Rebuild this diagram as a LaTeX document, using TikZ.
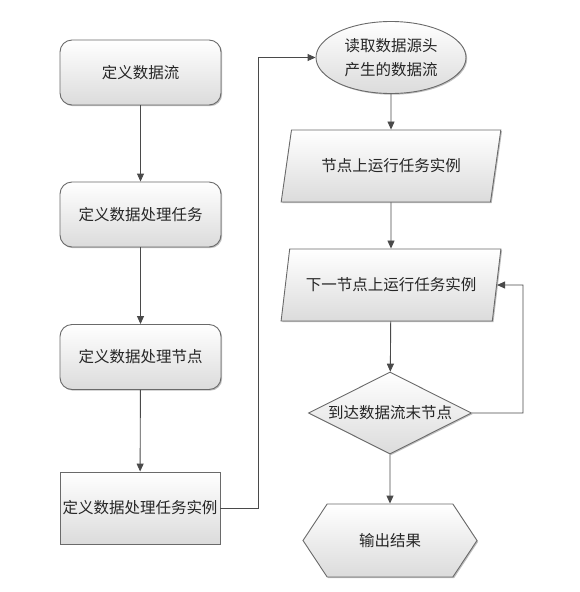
\documentclass[tikz,border=0pt]{standalone}
\usepackage{fontspec}
\newfontfamily\cjk{Noto Sans CJK SC}
\usetikzlibrary{shapes.geometric,shapes.symbols,shadows,arrows.meta}
\definecolor{edge}{HTML}{6A6A6A}
\definecolor{arr}{HTML}{4A4A4A}
\tikzset{
  base/.style={draw=edge, line width=0.9pt, top color=white, bottom color=black!14,
    font=\cjk\fontsize{15.5pt}{24pt}\selectfont, text=black!85, inner sep=0pt,
    drop shadow={shadow xshift=1.2pt, shadow yshift=-1.2pt, opacity=0.25, fill=black}},
  rbox/.style={base, rounded corners=12pt, minimum width=161pt, minimum height=65pt},
  sbox/.style={base, minimum width=160pt, minimum height=72pt},
  ell/.style={base, ellipse, minimum width=150pt, minimum height=72pt, align=center},
  para/.style={base, trapezium, trapezium left angle=63.4, trapezium right angle=116.6,
    trapezium stretches=true, minimum width=220pt, minimum height=72pt},
  dia/.style={base, diamond, aspect=2, minimum width=163pt, minimum height=82pt},
  hexa/.style={base, signal, signal to=west and east, signal pointer angle=113,
    minimum width=174pt, minimum height=73pt},
  conn/.style={draw=arr, line width=0.9pt, -{Triangle[length=8pt,width=7pt]}},
}
\begin{document}
\begin{tikzpicture}[x=1pt,y=-1pt]
\useasboundingbox (0,0) rectangle (579,592);
\node[rbox] (b1) at (140.5,72.5) {定义数据流};
\node[rbox] (b2) at (140.5,214.5) {定义数据处理任务};
\node[rbox] (b3) at (140.5,357) {定义数据处理节点};
\node[sbox] (b4) at (140,508) {定义数据处理任务实例};
\node[ell] (e1) at (391,57.5) {读取数据源头\\产生的数据流};
\node[para] (p1) at (391,166) {节点上运行任务实例};
\node[para] (p2) at (391,285) {下一节点上运行任务实例};
\node[dia] (d1) at (390,413) {到达数据流末节点};
\node[hexa] (h1) at (390,540.5) {输出结果};
\coordinate (t1) at (258,57.5);
\coordinate (t2) at (523,285);
\draw[conn] (b1) -- (b2);
\draw[conn] (b2) -- (b3);
\draw[conn] (b3) -- (b4);
\draw[conn] (b4.east) -| (t1) -- (e1.west);
\draw[conn] (e1) -- (p1);
\draw[conn] (p1) -- (p2);
\draw[conn] (p2) -- (d1);
\draw[conn] (d1) -- (h1);
\draw[conn] (d1.east) -| (t2) -- (p2.east);
\end{tikzpicture}
\end{document}
